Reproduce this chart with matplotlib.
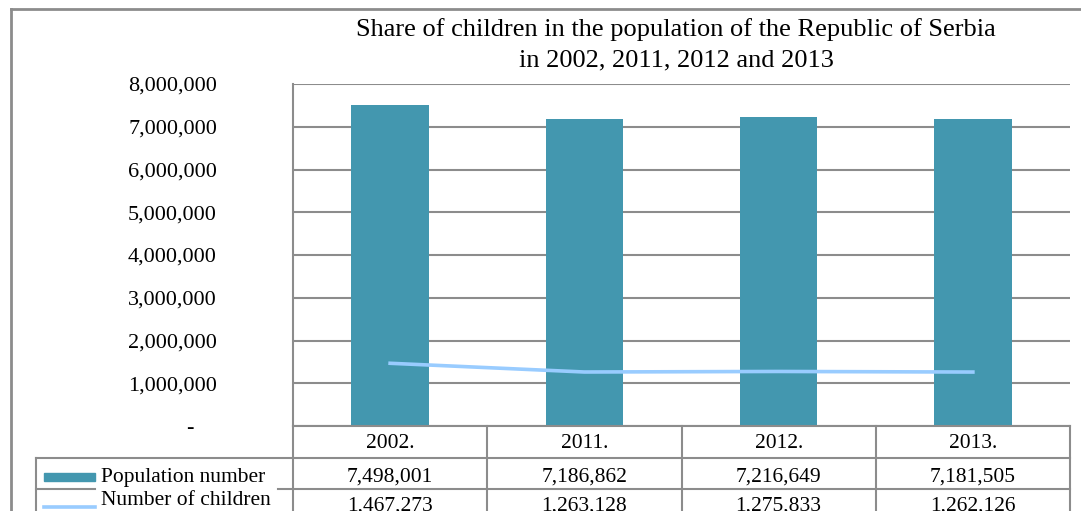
import numpy as np
import matplotlib.pyplot as plt
from matplotlib.lines import Line2D
from matplotlib.patches import Rectangle

years = ['2002.', '2011.', '2012.', '2013.']
population = [7498001, 7186862, 7216649, 7181505]
children = [1467273, 1263128, 1275833, 1262126]
series_names = ['Population number', 'Number of children']

bar_color = '#4397AF'
line_color = '#99CCFF'
rule_color = '#8C8C8C'

plt.rcParams['font.family'] = ['Liberation Serif', 'DejaVu Serif']

W, H = 1081, 511
fig = plt.figure(figsize=(W / 100, H / 100), dpi=100)


def fx(px):
    return px / W


def fy(py):
    return 1 - py / H


# plot area
left, right, top, bottom = 293, 1070, 84, 426
ax = fig.add_axes([fx(left), fy(bottom), fx(right - left), (bottom - top) / H])
x = np.arange(len(years))
ax.bar(x, population, width=0.4, color=bar_color, zorder=2)
ax.plot(x, children, color=line_color, lw=2.6, zorder=3)
ax.set_xlim(-0.5, len(years) - 0.5)
ax.set_ylim(0, 8000000)
ticks = np.arange(0, 8000001, 1000000)
ax.set_yticks(ticks)
ax.set_yticklabels(['-    ' if t == 0 else f'{t:,}' for t in ticks],
                   fontsize=16)
ax.tick_params(axis='y', length=0, pad=(left - 217) * 0.72)
ax.set_xticks([])
ax.grid(axis='y', color=rule_color, lw=1.5, zorder=1)
for s in ['top', 'right', 'bottom']:
    ax.spines[s].set_visible(False)
ax.spines['left'].set_color(rule_color)
ax.spines['left'].set_linewidth(1.5)

fig.text(fx(676), fy(45), 'Share of children in the population of the Republic of Serbia\nin 2002, 2011, 2012 and 2013',
         ha='center', va='center', fontsize=19, linespacing=1.48)

# outer chart frame
fig.add_artist(Line2D([fx(11), fx(11)], [fy(9), 0], color=rule_color, lw=2))
fig.add_artist(Line2D([fx(11), 1], [fy(9), fy(9)], color=rule_color, lw=2))

# data table under the axis
col_w = (right - left) / len(years)
cols = [left + i * col_w for i in range(len(years) + 1)]
row_y = [426, 458, 489, 522]
tbl_left = 36


def hline(y, x0, x1):
    fig.add_artist(Line2D([fx(x0), fx(x1)], [fy(y), fy(y)], color=rule_color, lw=1.5))


def vline(x0, y0, y1):
    fig.add_artist(Line2D([fx(x0), fx(x0)], [fy(y0), fy(y1)], color=rule_color, lw=1.5))


hline(row_y[0], left, right)
hline(row_y[1], tbl_left, right)
hline(row_y[2], tbl_left, 95)
hline(row_y[2], 278, right)
vline(tbl_left, row_y[1], row_y[3])
for c in cols:
    vline(c, row_y[0], row_y[3])

for i, yr in enumerate(years):
    cx = (cols[i] + cols[i + 1]) / 2
    fig.text(fx(cx), fy(448), yr, ha='center', va='baseline', fontsize=15.5)
    fig.text(fx(cx), fy(482), f'{population[i]:,}', ha='center', va='baseline', fontsize=15.5)
    fig.text(fx(cx), fy(511), f'{children[i]:,}', ha='center', va='baseline', fontsize=15.5)

# legend keys in the first column
fig.add_artist(Rectangle((fx(44), fy(481)), fx(51), 8 / H, color=bar_color))
fig.add_artist(Line2D([fx(44), fx(95)], [fy(507), fy(507)], color=line_color, lw=2.6))
fig.text(fx(101), fy(482), series_names[0], ha='left', va='baseline', fontsize=15.5)
fig.text(fx(101), fy(505), series_names[1], ha='left', va='baseline', fontsize=15.5)

fig.savefig('out.png', dpi=100)
